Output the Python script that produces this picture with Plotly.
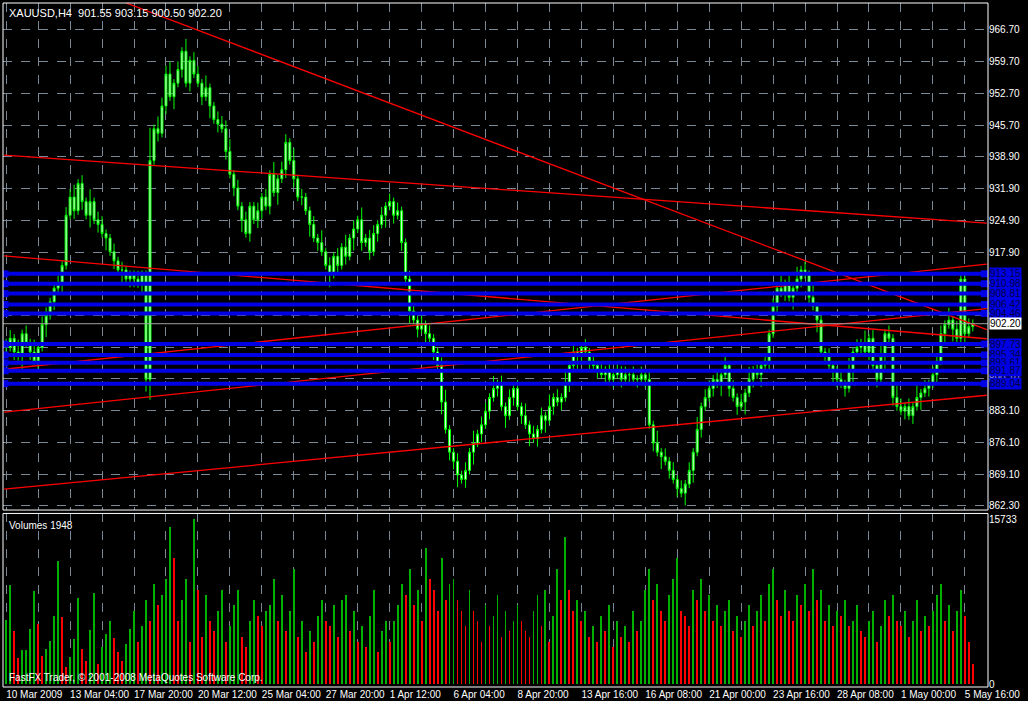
import plotly.graph_objects as go
from plotly.subplots import make_subplots

# Close prices, H4 bars, 10 Mar - 5 May 2009 (16 bars per row)
closes = [
    897, 899, 896, 895, 900, 898, 896, 894, 897, 902, 904, 907, 910, 911, 915, 926,
    930, 927, 933, 929, 926, 929, 925, 924, 922, 921, 918, 916, 914, 914, 912, 913,
    912, 911, 913, 890, 938, 945, 944, 950, 957, 952, 955, 958, 962, 955, 960, 957,
    955, 952, 954, 950, 947, 946, 945, 940, 935, 932, 928, 925, 922, 928, 925, 927,
    930, 928, 935, 931, 934, 936, 942, 938, 934, 930, 930, 927, 924, 921, 920, 918,
    915, 913, 917, 915, 919, 917, 921, 923, 925, 920, 921, 918, 922, 924, 926, 928,
    929, 926, 927, 920, 912, 905, 903, 901, 902, 900, 899, 896, 893, 885, 879, 874,
    872, 869, 868, 870, 874, 876, 878, 880, 883, 886, 888, 889, 884, 882, 886, 888,
    884, 882, 880, 878, 877, 879, 882, 881, 884, 886, 885, 886, 889, 893, 896, 895,
    897, 896, 894, 893, 892, 891, 892, 890, 891, 892, 890, 891, 891, 890, 890, 891,
    890, 880, 876, 874, 873, 872, 870, 868, 866, 865, 867, 870, 874, 879, 884, 886,
    888, 890, 889, 891, 893, 888, 886, 884, 885, 887, 890, 892, 891, 893, 894, 900,
    906, 910, 909, 911, 908, 910, 912, 914, 913, 908, 906, 903, 896, 895, 893, 892,
    890, 889, 888, 892, 896, 897, 898, 896, 899, 893, 890, 895, 900, 899, 886, 884,
    883, 884, 882, 884, 886, 887, 888, 889, 891, 894, 900, 902, 903, 901, 899, 912,
    900, 901.55, 902.20,
]
last_bar = [901.55, 903.15, 900.50, 902.20]

# upper / lower wick lengths in dollars, one digit per bar
wick_up = ("1213121312211212 2312131221121211 1211813223121312 2131122231212112 "
           "1213122131211213 1212131213122121 2121122131211231 1212131221312121 "
           "2131212131213121 1212121212121212 1213121212121312 2121312121312121 "
           "2131213121312121 1213121312131213 2121312121213121 121")
wick_dn = ("2121312121312121 1212131213121312 2123512121312121 1213121212131212 "
           "2121312121213121 1312121312121213 1212131213121312 2312131212121312 "
           "1213121312121213 2121212121212121 2121312121313121 1213121213121312 "
           "1212131212131213 2121312121213121 1212131212121312 212")

# volumes, hundreds of ticks
volumes = [
    61, 94, 50, 25, 32, 32, 52, 89, 57, 27, 33, 41, 65, 117, 64, 16,
    26, 43, 82, 33, 22, 51, 87, 19, 35, 48, 60, 44, 30, 22, 38, 52,
    70, 40, 55, 80, 60, 95, 75, 85, 100, 150, 120, 60, 80, 100, 40, 157,
    90, 45, 85, 60, 50, 70, 90, 40, 55, 75, 90, 45, 35, 60, 80, 65,
    55, 70, 75, 100, 60, 85, 50, 70, 110, 45, 60, 30, 50, 40, 65, 80,
    60, 55, 75, 45, 80, 85, 50, 70, 40, 55, 35, 65, 90, 30, 50, 60,
    40, 60, 75, 95, 85, 110, 75, 90, 60, 130, 100, 90, 70, 120, 80, 95,
    100, 80, 70, 55, 90, 70, 60, 40, 75, 55, 65, 85, 45, 70, 50, 60,
    75, 60, 50, 45, 70, 85, 55, 90, 40, 65, 110, 80, 140, 90, 70, 80,
    60, 70, 45, 55, 40, 65, 50, 75, 35, 60, 45, 55, 40, 70, 50, 60,
    90, 110, 80, 95, 70, 60, 85, 100, 120, 70, 65, 55, 90, 80, 100, 70,
    85, 60, 75, 55, 70, 80, 50, 65, 45, 60, 75, 55, 70, 85, 60, 95,
    110, 80, 65, 90, 70, 60, 85, 75, 95, 70, 110, 80, 90, 60, 75, 55,
    70, 65, 80, 55, 60, 75, 50, 45, 60, 70, 40, 55, 80, 65, 85, 60,
    55, 70, 45, 60, 80, 50, 65, 55, 70, 85, 95, 60, 75, 50, 70, 90,
    65, 40, 19.48,
]

date_labels = ["10 Mar 2009", "13 Mar 04:00", "17 Mar 20:00", "20 Mar 12:00",
               "25 Mar 04:00", "27 Mar 20:00", "1 Apr 12:00", "6 Apr 04:00",
               "8 Apr 20:00", "13 Apr 16:00", "16 Apr 08:00", "21 Apr 00:00",
               "23 Apr 16:00", "28 Apr 08:00", "1 May 00:00", "5 May 16:00"]

price_ticks = [966.70, 959.70, 952.70, 945.70, 938.90, 931.90, 924.90, 917.90,
               910.90, 903.90, 897.00, 890.10, 883.10, 876.10, 869.10, 862.30]

levels = [913.15, 910.98, 908.81, 906.42, 904.46, 897.73, 895.34, 893.61, 891.87, 889.04]
current = 902.20

# trendlines: (start bar, start price, end bar, end price)
trendlines = [
    (30.0, 972.6, 245.5, 900.9),
    (-0.5, 939.2, 245.5, 924.3),
    (-0.5, 917.1, 245.5, 898.9),
    (-0.5, 892.2, 245.5, 915.3),
    (-0.5, 882.8, 245.5, 905.5),
    (-0.5, 865.9, 245.5, 886.5),
]

n = len(closes)
ups = [int(c) for c in wick_up.replace(" ", "")]
dns = [int(c) for c in wick_dn.replace(" ", "")]
x = list(range(n))
opens = [closes[0] + 1] + closes[:-1]
opens[-1] = last_bar[0]
highs = [max(o, c) + u * 0.9 for o, c, u in zip(opens, closes, ups)]
lows = [min(o, c) - d * 0.9 for o, c, d in zip(opens, closes, dns)]
highs[-1], lows[-1] = last_bar[1], last_bar[2]

vol = [v * 100 for v in volumes]
vol_colors = ['#00b000' if i == 0 or vol[i] >= vol[i - 1] else '#ff0000' for i in range(n)]

FONT = "Liberation Sans"
GRID = '#7a8896'

fig = make_subplots(rows=2, cols=1, shared_xaxes=True, vertical_spacing=0.005,
                    row_heights=[0.745, 0.255])

for x0, p0, x1, p1 in trendlines:
    fig.add_trace(go.Scatter(x=[x0, x1], y=[p0, p1], mode='lines',
                             line=dict(color='#ff0000', width=1.3),
                             hoverinfo='skip', showlegend=False), row=1, col=1)

fig.add_trace(go.Candlestick(
    x=x, open=opens, high=highs, low=lows, close=closes,
    increasing=dict(line=dict(color='#00ff00', width=1), fillcolor='#e8ffe8'),
    decreasing=dict(line=dict(color='#00ff00', width=1), fillcolor='#e8ffe8'),
    whiskerwidth=0, showlegend=False
), row=1, col=1)

fig.add_trace(go.Bar(x=x, y=vol, marker_color=vol_colors, marker_line_width=0,
                     width=0.22, showlegend=False), row=2, col=1)

# support / resistance levels
for lv in levels:
    fig.add_shape(type='line', xref='x domain', yref='y', x0=0, x1=1, y0=lv, y1=lv,
                  line=dict(color='#0000e6', width=4), layer='above')
    fig.add_annotation(xref='paper', yref='y', x=1, y=lv, xanchor='left', xshift=1,
                       text=f"{lv:.2f}", showarrow=False, bgcolor='#0000e6',
                       font=dict(family=FONT, size=10, color='#000040'), borderpad=0)
fig.add_trace(go.Scatter(x=[-0.3] * len(levels) + [244.9] * len(levels), y=levels * 2,
                         mode='markers', marker=dict(symbol='square', size=7, color='#0000e6'),
                         hoverinfo='skip', showlegend=False), row=1, col=1)

fig.add_shape(type='line', xref='x domain', yref='y', x0=0, x1=1, y0=current, y1=current,
              line=dict(color='#a0a0a0', width=1))
fig.add_annotation(xref='paper', yref='y', x=1, y=current, xanchor='left', xshift=1,
                   text=f"{current:.2f}", showarrow=False, bgcolor='white',
                   font=dict(family=FONT, size=10, color='black'), borderpad=0)

# panel frames
for yref in ['y domain', 'y2 domain']:
    fig.add_shape(type='rect', xref='x domain', yref=yref, x0=0, x1=1, y0=0, y1=1,
                  line=dict(color='white', width=1))

fig.add_annotation(xref='paper', yref='paper', x=0.004, y=0.997, xanchor='left', yanchor='top',
                   text="XAUUSD,H4  901.55 903.15 900.50 902.20", showarrow=False,
                   font=dict(family=FONT, size=11, color='white'))
fig.add_annotation(xref='paper', yref='paper', x=0.004, y=0.247, xanchor='left', yanchor='top',
                   text="Volumes 1948", showarrow=False,
                   font=dict(family=FONT, size=10, color='white'))
fig.add_annotation(xref='paper', yref='paper', x=0.004, y=0.003, xanchor='left', yanchor='bottom',
                   text="FastFX Trader, © 2001-2008 MetaQuotes Software Corp.", showarrow=False,
                   font=dict(family=FONT, size=10, color='white'))

grid_x = list(range(0, 248, 8))
grid_text = [date_labels[i // 2] if i % 2 == 0 and i // 2 < len(date_labels) else '' for i in range(len(grid_x))]

axis_common = dict(showgrid=True, gridcolor=GRID, griddash='dash', gridwidth=1,
                   zeroline=False, showline=False, color='white', automargin=False,
                   tickfont=dict(family=FONT, size=10, color='white'))

fig.update_xaxes(range=[-0.8, 245.8], tickvals=grid_x, ticktext=grid_text, tickangle=0,
                 rangeslider_visible=False, ticks='', ticklabelposition='outside right',
                 **axis_common)
fig.update_xaxes(showticklabels=False, row=1, col=1)
fig.update_yaxes(side='right', range=[861.3, 972.6], tickvals=price_ticks,
                 ticktext=[f"{p:.2f}" for p in price_ticks], ticks='', row=1, col=1, **axis_common)
fig.update_yaxes(side='right', range=[-250, 16300], tickvals=[0, 15733], ticktext=['0', '15733'],
                 showgrid=False, zeroline=False, color='white', ticks='', automargin=False,
                 tickfont=dict(family=FONT, size=10, color='white'), row=2, col=1)

fig.update_layout(width=1028, height=701, paper_bgcolor='black', plot_bgcolor='black',
                  margin=dict(l=3, r=40, t=3, b=14), bargap=0, showlegend=False,
                  hovermode=False)

# drop the page margin so the figure sits at the window's top-left corner
fig.write_html("out.html", config={'displayModeBar': False},
               post_script="document.body.style.margin='0';document.body.style.background='black';")
